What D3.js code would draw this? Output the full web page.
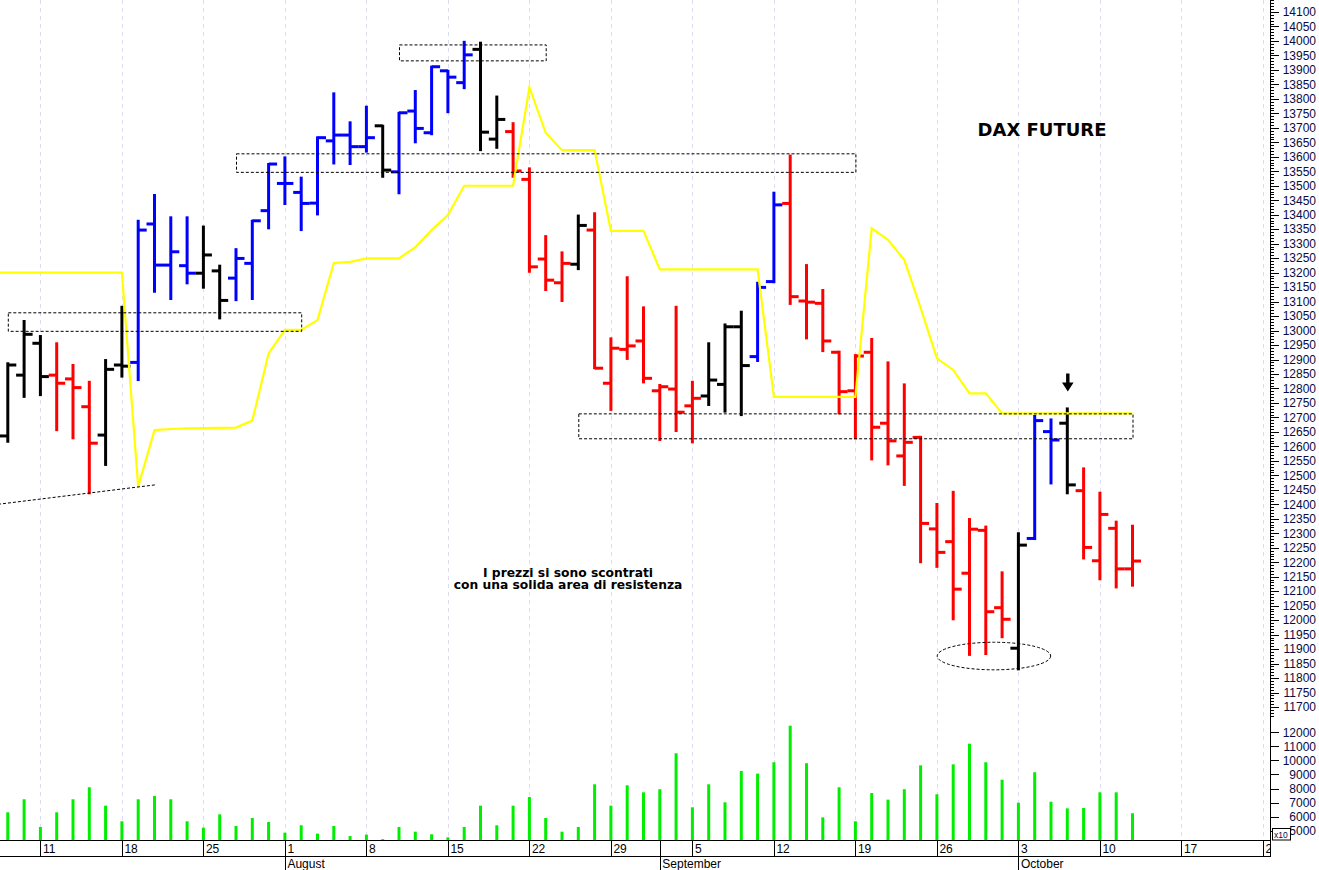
<!DOCTYPE html>
<html>
<head>
<meta charset="utf-8">
<script src="https://cdn.jsdelivr.net/npm/d3@7"></script>
<style>
  html,body{margin:0;padding:0;background:#fff;}
  svg{display:block;}
</style>
</head>
<body>
<svg id="chart" width="1319" height="870"></svg>
<script>
// ---------------- DATA ----------------
const dates = [
  "2022-07-06","2022-07-07","2022-07-08","2022-07-11","2022-07-12","2022-07-13","2022-07-14","2022-07-15",
  "2022-07-18","2022-07-19","2022-07-20","2022-07-21","2022-07-22","2022-07-25","2022-07-26","2022-07-27",
  "2022-07-28","2022-07-29","2022-08-01","2022-08-02","2022-08-03","2022-08-04","2022-08-05","2022-08-08",
  "2022-08-09","2022-08-10","2022-08-11","2022-08-12","2022-08-15","2022-08-16","2022-08-17","2022-08-18",
  "2022-08-19","2022-08-22","2022-08-23","2022-08-24","2022-08-25","2022-08-26","2022-08-29","2022-08-30",
  "2022-08-31","2022-09-01","2022-09-02","2022-09-05","2022-09-06","2022-09-07","2022-09-08","2022-09-09",
  "2022-09-12","2022-09-13","2022-09-14","2022-09-15","2022-09-16","2022-09-19","2022-09-20","2022-09-21",
  "2022-09-22","2022-09-23","2022-09-26","2022-09-27","2022-09-28","2022-09-29","2022-09-30","2022-10-03",
  "2022-10-04","2022-10-05","2022-10-06","2022-10-07","2022-10-10","2022-10-11","2022-10-12"
];
const opens = [12700,12636,12846,12956,12846,12833,12737,12639,12881,12890,13368,13226,13224,13198,13206,13181,
  13232,13414,13508,13477,13440,13655,13675,13635,13707,13548,13758,13683,13897,13856,13971,13661,
  13687,13522,13247,13165,13229,13347,12818,12935,12964,12792,12798,12740,12774,12814,13013,12910,
  13169,13439,13102,13094,12925,12792,12925,12680,12567,12631,12315,12271,12162,12310,12043,11903,
  12282,12651,12680,12447,12205,12317,12177];
const highs = [12760,12887,13033,12981,12956,12881,12823,12898,13082,13379,13468,13391,13391,13359,13224,13281,
  13379,13575,13598,13528,13667,13819,13719,13773,13707,13752,13827,13911,13897,13997,13994,13808,
  13716,13560,13326,13270,13397,13405,12973,13184,13080,12812,13082,12823,12956,13021,13065,13165,
  13476,13604,13226,13140,12927,12915,12971,12890,12814,12633,12401,12443,12349,12323,12165,12300,
  12705,12693,12731,12524,12440,12340,12326];
const lows = [12600,12616,12771,12777,12656,12628,12438,12536,12841,12829,13134,13109,13163,13148,13042,13105,
  13109,13353,13437,13347,13401,13577,13575,13618,13531,13474,13650,13678,13754,13837,13623,13631,
  13531,13203,13140,13102,13212,12870,12726,12902,12821,12622,12653,12614,12743,12720,12708,12895,
  13167,13092,12973,12929,12714,12628,12555,12538,12467,12200,12184,12003,11880,11883,11941,11830,
  12280,12472,12438,12213,12141,12113,12119];
const closes = [12660,12881,12987,12841,12818,12803,12611,12866,12877,13347,13226,13272,13198,13261,13104,13249,
  13379,13575,13508,13439,13666,13675,13635,13666,13554,13752,13698,13911,13875,13952,13685,13729,
  13551,13220,13174,13232,13363,12870,12939,12947,12835,12806,12718,12766,12829,13013,12879,13149,
  13434,13117,13098,12964,12789,12912,12666,12619,12614,12334,12234,12107,12314,12029,12003,12259,
  12689,12622,12467,12251,12365,12177,12204];
const barTrend = ["red","black","black","black","red","red","red","black","black","blue","blue","blue","blue","black","black","blue",
  "blue","blue","blue","blue","blue","blue","blue","blue","black","blue","blue","blue","blue","blue","black","black",
  "red","red","red","red","black","red","red","red","red","red","red","red","black","black","black","blue",
  "blue","red","red","red","red","red","red","red","red","red","red","red","red","red","red","black",
  "blue","blue","black","red","red","red","red"];
const volumes = [null,6310,7235,5265,6310,7235,8090,6780,5670,7235,7470,7235,5670,5215,6165,5335,
  5905,5620,4860,5385,4790,5335,4620,4720,4400,5265,4930,4745,4530,5265,6780,5385,
  6780,7400,5905,4930,5265,8300,6780,8230,7730,7950,10510,6665,8300,7020,9250,9060,
  9870,12470,9800,5950,8090,5670,7680,7210,7950,9650,7590,9720,11190,9870,8630,6990,
  9160,7060,6590,6620,7730,7730,6240];
const stopLine = [13200,13200,13200,13200,13200,13200,13200,13200,13200,12461,12656,12660,12662,12663,12664,12665,
  12689,12921,13002,13002,13036,13233,13237,13249,13249,13249,13288,13347,13399,13500,13500,13500,
  13500,13840,13683,13623,13623,13623,13344,13344,13344,13211,13211,13211,13211,13211,13211,13211,
  12771,12771,12771,12771,12771,12771,13353,13313,13244,13078,12904,12864,12783,12783,12714,12714,
  12714,12714,12714,12714,12714,12714,12714];

const weekTickDays = [0,5,10,15,20,25,30,35,40,45,50,55,60,65,70,75];
const weekTickLabels = ["11","18","25","1","8","15","22","29","5","12","19","26","3","10","17","24"];
const monthTickDays = [15,38,60];
const monthLabels = ["August","September","October"];
const priceTicks = d3.range(11700, 14101, 50);
const priceMinorTicks = d3.range(11660, 14150, 10);
const volumeTicks = [5000,6000,7000,8000,9000,10000,11000,12000];

// annotations (day index relative to 11 July, price)
const zones = [
  {d0:-2, d1:16, lo:12999, hi:13063},
  {d0:12, d1:50, lo:13548, hi:13612},
  {d0:22, d1:31, lo:13933, hi:13988},
  {d0:33, d1:67, lo:12628, hi:12714}
];
const trendLine = [{d:-2.6, p:12400},{d:7.03, p:12467}];
const lowEllipse = {d:58.5, p:11876, rd:3.48, rp:47.6};
const titleText = "DAX FUTURE";
const noteLines = ["I prezzi si sono scontrati","con una solida area di resistenza"];

// ---------------- CHART ----------------
const W = 1319, H = 870, plotRight = 1270, plotBottom = 840;
const dayIndex = k => k - 3; // dates[3] is 11 July
const x = d3.scaleLinear().domain([0, 65]).range([40.4, 1099.9]);
const y = d3.scaleLinear().domain([11700, 14100]).range([707, 12]);
const yV = d3.scaleLinear().domain([5000, 12000]).range([830.7, 732.3]);
const colorMap = {red:"#ff0000", blue:"#0000ff", black:"#000000"};

const svg = d3.select("#chart");
svg.append("rect").attr("width", W).attr("height", H).attr("fill", "#fff");
svg.append("defs").append("clipPath").attr("id", "plotclip")
  .append("rect").attr("x", 0).attr("y", 0).attr("width", plotRight).attr("height", plotBottom);
const plot = svg.append("g").attr("clip-path", "url(#plotclip)");

// vertical dashed grid
plot.selectAll("line.grid").data(weekTickDays).join("line").attr("class", "grid")
  .attr("x1", d => Math.round(x(d)) + 0.5).attr("x2", d => Math.round(x(d)) + 0.5)
  .attr("y1", 0).attr("y2", plotBottom)
  .attr("stroke", "#dcdcf2").attr("stroke-width", 1).attr("stroke-dasharray", "4,4");

const bars = dates.map((dt, k) => ({
  d: dayIndex(k), o: opens[k], h: highs[k], l: lows[k], c: closes[k],
  col: colorMap[barTrend[k]], v: volumes[k], s: stopLine[k]
}));

// volume bars
plot.selectAll("line.vol").data(bars.filter(b => b.v != null)).join("line").attr("class", "vol")
  .attr("x1", b => x(b.d)).attr("x2", b => x(b.d))
  .attr("y1", plotBottom).attr("y2", b => yV(b.v))
  .attr("stroke", "#00ee00").attr("stroke-width", 3);

// OHLC bars
const g = plot.selectAll("g.bar").data(bars).join("g").attr("class", "bar");
g.append("line").attr("x1", b => x(b.d)).attr("x2", b => x(b.d))
  .attr("y1", b => y(b.h) - 1).attr("y2", b => y(b.l) + 1)
  .attr("stroke", b => b.col).attr("stroke-width", 3);
g.append("line").attr("x1", b => x(b.d) - 8).attr("x2", b => x(b.d))
  .attr("y1", b => y(b.o)).attr("y2", b => y(b.o))
  .attr("stroke", b => b.col).attr("stroke-width", 3);
g.append("line").attr("x1", b => x(b.d)).attr("x2", b => x(b.d) + 8.5)
  .attr("y1", b => y(b.c)).attr("y2", b => y(b.c))
  .attr("stroke", b => b.col).attr("stroke-width", 3);

// yellow stop line
plot.append("path").datum(bars)
  .attr("d", d3.line().x(b => x(b.d)).y(b => y(b.s)))
  .attr("fill", "none").attr("stroke", "#ffff00").attr("stroke-width", 2.2);

// dashed zones
plot.selectAll("rect.zone").data(zones).join("rect").attr("class", "zone")
  .attr("x", z => x(z.d0) + 0.5).attr("y", z => y(z.hi) + 0.5)
  .attr("width", z => x(z.d1) - x(z.d0)).attr("height", z => y(z.lo) - y(z.hi))
  .attr("fill", "none").attr("stroke", "#000").attr("stroke-width", 1).attr("stroke-dasharray", "3,2");

// dashed trend line
plot.append("line")
  .attr("x1", x(trendLine[0].d)).attr("y1", y(trendLine[0].p))
  .attr("x2", x(trendLine[1].d)).attr("y2", y(trendLine[1].p))
  .attr("stroke", "#000").attr("stroke-width", 1).attr("stroke-dasharray", "3,2");

// ellipse around lows
plot.append("ellipse")
  .attr("cx", x(lowEllipse.d)).attr("cy", y(lowEllipse.p))
  .attr("rx", x(lowEllipse.rd) - x(0)).attr("ry", y(11700) - y(11700 + lowEllipse.rp))
  .attr("fill", "none").attr("stroke", "#000").attr("stroke-width", 1).attr("stroke-dasharray", "3,2");

// arrow above 6 Oct bar
const arrowBar = bars[dates.indexOf("2022-10-06")];
const ax = x(arrowBar.d) + 0.5, ay = y(arrowBar.h) - 17;
plot.append("path")
  .attr("d", `M${ax-1.7},${ay-18} L${ax+1.7},${ay-18} L${ax+1.7},${ay-9} L${ax+5.8},${ay-9} L${ax},${ay} L${ax-5.8},${ay-9} L${ax-1.7},${ay-9} Z`)
  .attr("fill", "#000");

// texts
plot.append("text").attr("x", x(61.45)).attr("y", y(13672))
  .attr("text-anchor", "middle").attr("font-family", "DejaVu Sans, Verdana, sans-serif")
  .attr("font-weight", "bold").attr("font-size", 18).attr("fill", "#000").text(titleText);
plot.selectAll("text.note").data(noteLines).join("text").attr("class", "note")
  .attr("x", x(32.37)).attr("y", (t, i) => y(i === 0 ? 12149 : 12107))
  .attr("text-anchor", "middle").attr("font-family", "DejaVu Sans, Verdana, sans-serif")
  .attr("font-weight", "bold").attr("font-size", 12.3).attr("fill", "#000").text(t => t);

// ---------------- AXES ----------------
const axisColor = "#000";
const labelColor = "#0a0a45";
svg.append("line").attr("x1", plotRight + 0.5).attr("x2", plotRight + 0.5).attr("y1", 0).attr("y2", 856)
  .attr("stroke", axisColor).attr("stroke-width", 1);
svg.selectAll("line.pmin").data(priceMinorTicks.filter(p => y(p) >= 0 && y(p) <= 718)).join("line").attr("class", "pmin")
  .attr("x1", plotRight).attr("x2", plotRight + 4)
  .attr("y1", p => Math.round(y(p)) + 0.5).attr("y2", p => Math.round(y(p)) + 0.5)
  .attr("stroke", axisColor).attr("stroke-width", 1);
svg.selectAll("line.pmaj").data(priceTicks).join("line").attr("class", "pmaj")
  .attr("x1", plotRight).attr("x2", plotRight + 9)
  .attr("y1", p => Math.round(y(p)) + 0.5).attr("y2", p => Math.round(y(p)) + 0.5)
  .attr("stroke", axisColor).attr("stroke-width", 1);
svg.selectAll("text.plab").data(priceTicks).join("text").attr("class", "plab")
  .attr("x", 1316).attr("y", p => y(p) + 4.3).attr("text-anchor", "end")
  .attr("font-family", "Liberation Sans, Arial, sans-serif").attr("font-size", 12)
  .attr("fill", labelColor).text(p => p);
svg.selectAll("line.vmaj").data(volumeTicks).join("line").attr("class", "vmaj")
  .attr("x1", plotRight).attr("x2", plotRight + 9)
  .attr("y1", v => Math.round(yV(v)) + 0.5).attr("y2", v => Math.round(yV(v)) + 0.5)
  .attr("stroke", axisColor).attr("stroke-width", 1);
svg.selectAll("text.vlab").data(volumeTicks).join("text").attr("class", "vlab")
  .attr("x", 1316).attr("y", v => yV(v) + 4.3).attr("text-anchor", "end")
  .attr("font-family", "Liberation Sans, Arial, sans-serif").attr("font-size", 12)
  .attr("fill", labelColor).text(v => v);
svg.append("rect").attr("x", 1272.5).attr("y", 828.5).attr("width", 18).attr("height", 11.5)
  .attr("fill", "#fff").attr("stroke", "#000").attr("stroke-width", 1);
svg.append("text").attr("x", 1274).attr("y", 837.5).attr("font-family", "Liberation Sans, Arial, sans-serif")
  .attr("font-size", 8.5).attr("fill", labelColor).text("x10");

// bottom axis
const bottom = svg.append("g");
bottom.append("line").attr("x1", 0).attr("x2", plotRight + 1).attr("y1", 840.5).attr("y2", 840.5).attr("stroke", "#000");
bottom.append("line").attr("x1", 0).attr("x2", plotRight + 1).attr("y1", 856.5).attr("y2", 856.5).attr("stroke", "#000");
svg.append("defs").append("clipPath").attr("id", "axisclip")
  .append("rect").attr("x", 0).attr("y", 840).attr("width", plotRight + 1).attr("height", 30);
const bx = bottom.append("g").attr("clip-path", "url(#axisclip)");
bx.selectAll("line.wk").data(weekTickDays).join("line").attr("class", "wk")
  .attr("x1", d => Math.round(x(d)) + 0.5).attr("x2", d => Math.round(x(d)) + 0.5)
  .attr("y1", 840).attr("y2", 856).attr("stroke", "#000");
bx.selectAll("text.wk").data(weekTickDays).join("text").attr("class", "wk")
  .attr("x", d => x(d) + 2.5).attr("y", 853)
  .attr("font-family", "Liberation Sans, Arial, sans-serif").attr("font-size", 12).attr("fill", "#000")
  .text((d, i) => weekTickLabels[i]);
bx.selectAll("line.mo").data(monthTickDays).join("line").attr("class", "mo")
  .attr("x1", d => Math.round(x(d)) + 0.5).attr("x2", d => Math.round(x(d)) + 0.5)
  .attr("y1", 840).attr("y2", 870).attr("stroke", "#000");
bx.selectAll("text.mo").data(monthTickDays).join("text").attr("class", "mo")
  .attr("x", d => x(d) + 2.5).attr("y", 868)
  .attr("font-family", "Liberation Sans, Arial, sans-serif").attr("font-size", 12).attr("fill", "#000")
  .text((d, i) => monthLabels[i]);
</script>
</body>
</html>
